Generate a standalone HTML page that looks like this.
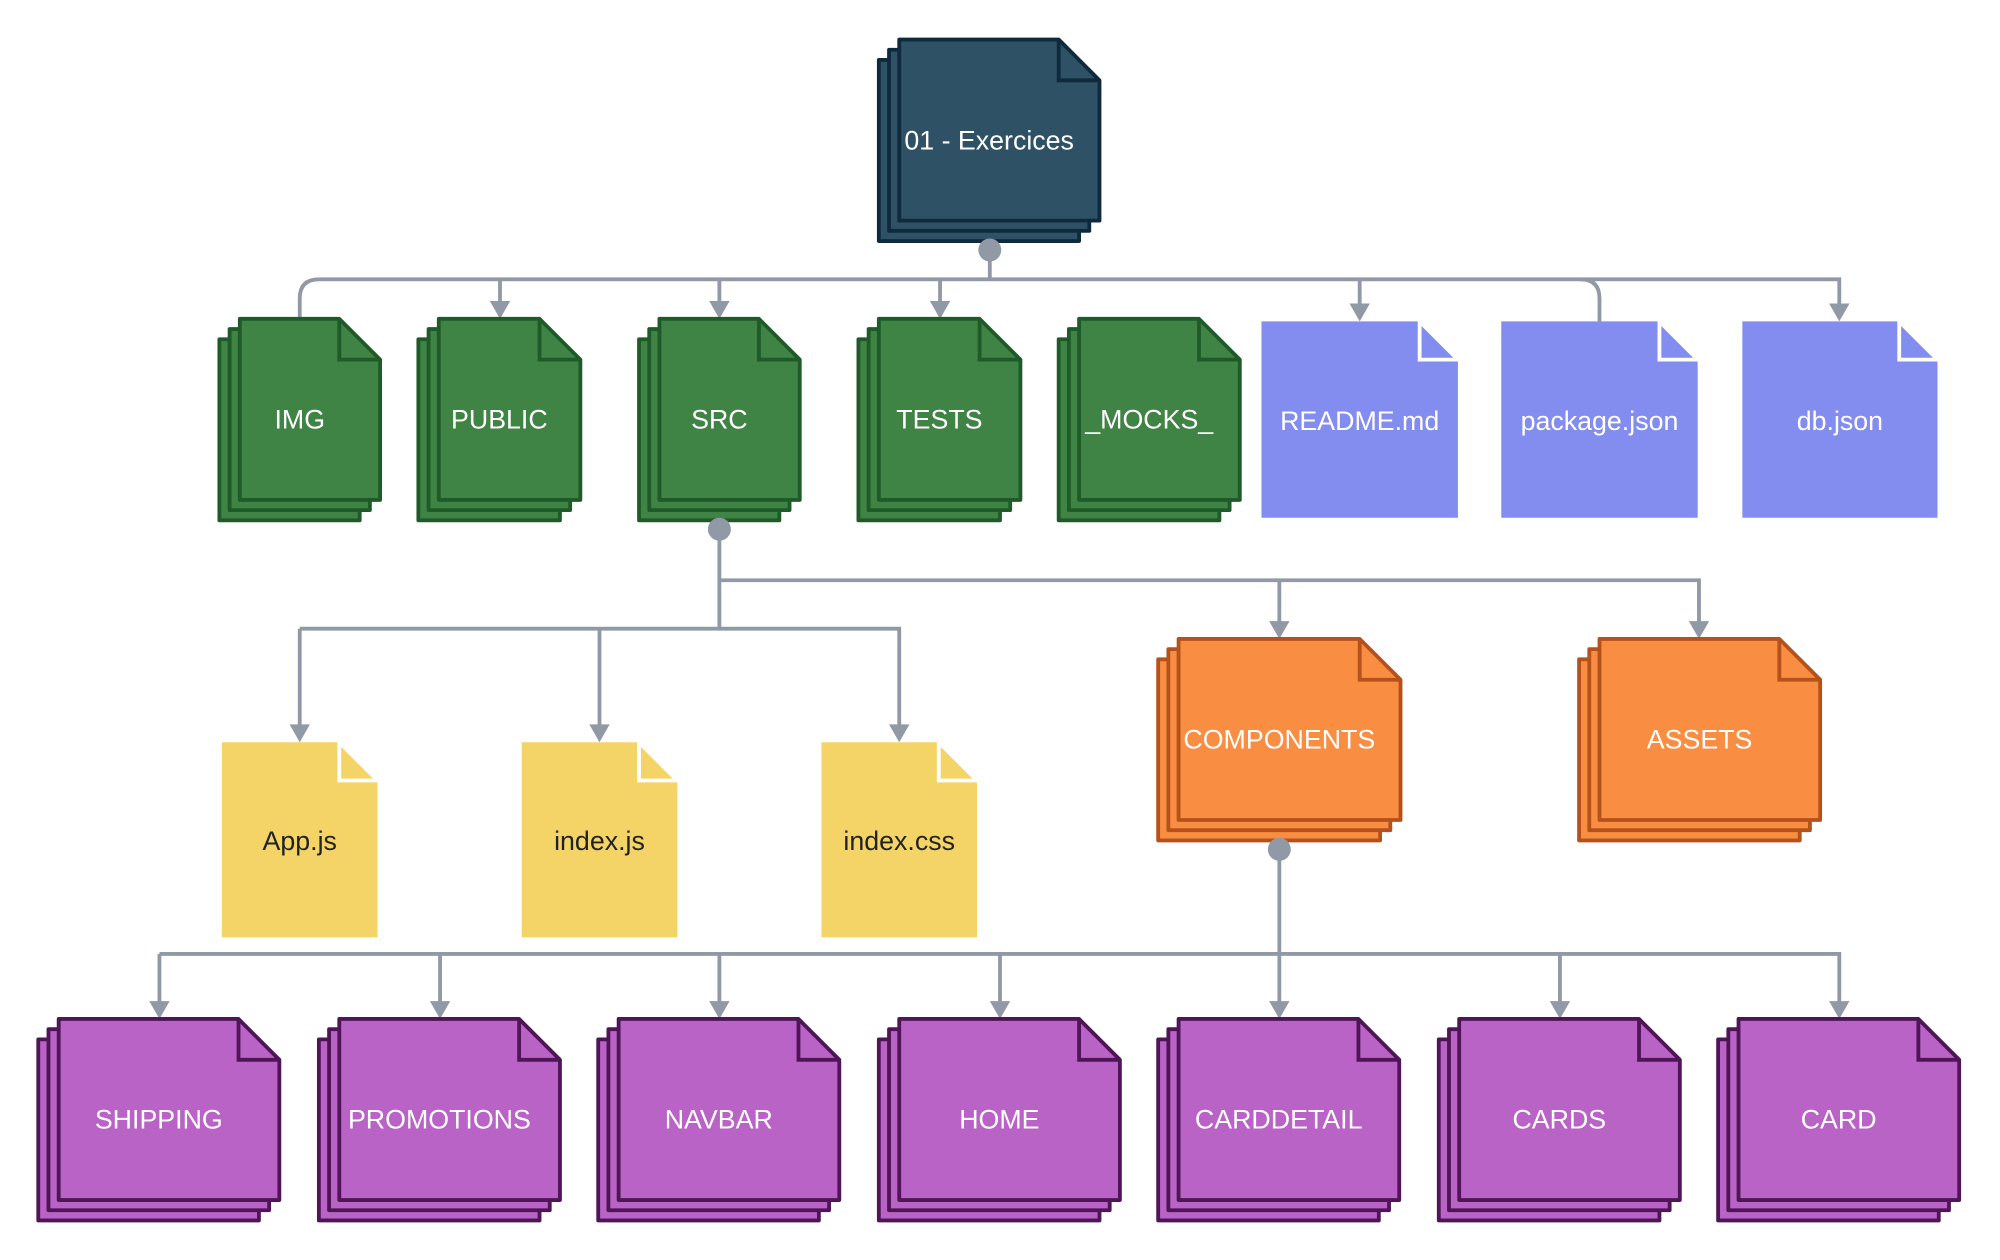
<!DOCTYPE html>
<html><head><meta charset="utf-8"><style>
html,body{margin:0;padding:0;background:#fff;}
svg{display:block;}
text{font-family:"Liberation Sans",sans-serif;font-size:21px;fill:#fff;text-anchor:middle;dominant-baseline:central;}
</style></head><body>
<svg id="s" width="2000" height="1260" viewBox="0 0 1568 988" preserveAspectRatio="none" xmlns="http://www.w3.org/2000/svg">
<g id="lines" fill="none" stroke="#9199a6" stroke-width="3"></g>
<g id="arrows" fill="#9199a6"></g>
<g id="nodes"></g>
</svg>
<script>
var NS="http://www.w3.org/2000/svg";
var L=document.getElementById('lines'),A=document.getElementById('arrows'),N=document.getElementById('nodes');
function el(p,t,a,txt){var e=document.createElementNS(NS,t);for(var k in a)e.setAttribute(k,a[k]);if(txt)e.textContent=txt;p.appendChild(e);return e;}
function line(d){el(L,'path',{d:d});}
function arrow(x,y){el(A,'path',{d:'M'+(x-8)+','+(y-14)+' L'+(x+8)+','+(y-14)+' L'+x+','+y+' Z'});}
function doc(x,y,w,h,f){return 'M'+x+','+y+' H'+(x+w-f)+' L'+(x+w)+','+(y+f)+' V'+(y+h)+' H'+x+' Z';}
function stack(x,y,w,h,fill,st,label,tc){
  var f=32;
  for(var i=2;i>=1;i--){el(N,'path',{d:doc(x-8*i,y+8*i,w,h,f),fill:fill,stroke:st,'stroke-width':3,'stroke-linejoin':'round'});}
  el(N,'path',{d:doc(x,y,w,h,f),fill:fill,stroke:st,'stroke-width':3,'stroke-linejoin':'round'});
  el(N,'path',{d:'M'+(x+w-f)+','+y+' V'+(y+f)+' H'+(x+w),fill:'none',stroke:st,'stroke-width':3});
  var t=el(N,'text',{x:(x-16+x+w)/2,y:y+(h+16)/2},label);if(tc)t.setAttribute('style','fill:'+tc);
}
function plain(x,y,w,h,fill,fs,label,tc){
  var f=30;
  el(N,'path',{d:doc(x,y,w,h,f),fill:fill});
  el(N,'path',{d:'M'+(x+w-f)+','+y+' V'+(y+f)+' H'+(x+w)+' Z',fill:fill,stroke:fs,'stroke-width':3});
  var t=el(N,'text',{x:x+w/2,y:y+h/2+1},label);if(tc)t.setAttribute('style','fill:'+tc);
}
// connectors
line('M776,196 V219');
line('M250,219 H1239');
line('M250,219 Q235,219 235,234 V250');
line('M1239,219 Q1254,219 1254,234 V252');
line('M1239,219 H1442 V240');arrow(1442,252);
[392,564,737].forEach(function(x){line('M'+x+',219 V238');arrow(x,250);});
line('M1066,219 V240');arrow(1066,252);
line('M564,415 V493');
line('M564,455 H1332 V490');arrow(1332,501);
line('M1003,455 V490');arrow(1003,501);
line('M235,493 H705 V570');arrow(705,582);
line('M235,493 V570');arrow(235,582);line('M470,493 V570');arrow(470,582);
line('M1003,666 V787');arrow(1003,799);
line('M125,748 H1442 V787');arrow(1442,799);
[125,345,564,784,1223].forEach(function(x){line('M'+x+',748 V787');arrow(x,799);});
// nodes
stack(705,31,157,142,'#2f5165','#0f2a3d','01 - Exercices');
var G='#3f8345',GS='#1e5b28';
stack(188,250,110,142,G,GS,'IMG');
stack(344,250,111,142,G,GS,'PUBLIC');
stack(517,250,110,142,G,GS,'SRC');
stack(689,250,111,142,G,GS,'TESTS');
stack(846,250,126,142,G,GS,'_MOCKS_');
plain(989,252,154,154,'#838cef','#fff','README.md');
plain(1177,252,154,154,'#838cef','#fff','package.json');
plain(1366,252,153,154,'#838cef','#fff','db.json');
plain(174,582,122,153,'#f4d466','#fff','App.js','#222');
plain(409,582,122,153,'#f4d466','#fff','index.js','#222');
plain(644,582,122,153,'#f4d466','#fff','index.css','#222');
stack(924,501,174,142,'#f98d42','#b5511a','COMPONENTS');
stack(1254,501,173,142,'#f98d42','#b5511a','ASSETS');
var P='#b963c6',PS='#4f1557';
[[46,'SHIPPING'],[266,'PROMOTIONS'],[485,'NAVBAR'],[705,'HOME'],[924,'CARDDETAIL'],[1144,'CARDS'],[1363,'CARD']].forEach(function(p){stack(p[0],799,173,142,P,PS,p[1]);});
// dots
[[776,196],[564,415],[1003,666]].forEach(function(c){el(N,'circle',{cx:c[0],cy:c[1],r:9,fill:'#9199a6'});});
</script>
</body></html>
